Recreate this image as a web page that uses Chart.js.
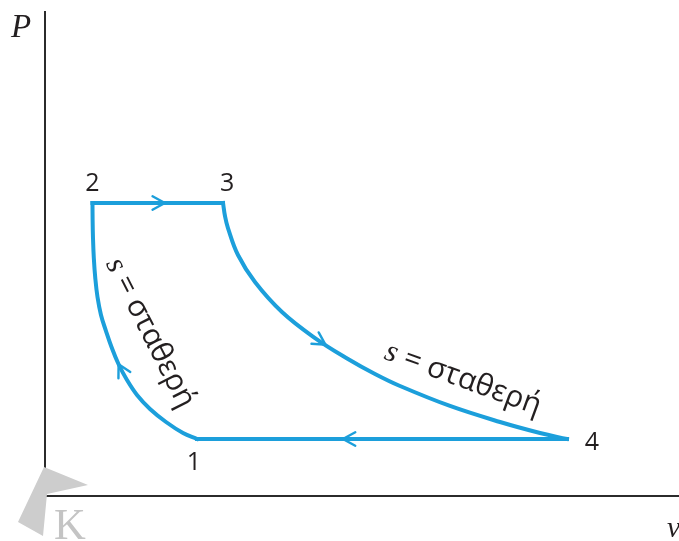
<!DOCTYPE html>
<html><head><meta charset="utf-8">
<script src="https://cdn.jsdelivr.net/npm/chart.js@4.4.0/dist/chart.umd.min.js"></script>
<style>html,body{margin:0;padding:0;background:#fff;overflow:hidden}#wrap{width:679px;height:541px;position:relative}</style>
</head><body><div id="wrap"><canvas id="c" width="679" height="541"></canvas></div>
<script>
// Diesel cycle on a P–v diagram (arbitrary units), legs in cycle order 1→2→3→4→1
const compV = [2.397, 2.177, 1.909, 1.656, 1.451, 1.293, 1.159, 1.049, 0.962, 0.883, 0.828, 0.793, 0.770, 0.757, 0.751, 0.749]; // 1→2  s = σταθερή
const compP = [1.178, 1.302, 1.529, 1.798, 2.087, 2.397, 2.727, 3.079, 3.409, 3.740, 4.112, 4.504, 4.917, 5.331, 5.702, 6.054];
const heatV = [0.749, 2.808];                                              // 2→3  P = const
const heatP = [6.054, 6.054];
const expV  = [2.808, 2.839, 2.886, 3.044, 3.312, 3.738, 4.259, 4.779, 5.205, 5.599, 6.388, 7.177, 7.808, 8.233]; // 3→4  s = σταθερή
const expP  = [6.054, 5.785, 5.537, 4.979, 4.421, 3.802, 3.264, 2.831, 2.521, 2.273, 1.860, 1.529, 1.302, 1.178];
const rejV  = [8.233, 2.397];                                              // 4→1
const rejP  = [1.178, 1.178];
const stateNames = ['1', '2', '3', '4'];
const stateV = [2.397, 0.749, 2.808, 8.233];
const stateP = [1.178, 6.054, 6.054, 1.178];
const arrowV = [1.20, 1.89, 4.42, 4.70];
const arrowP = [2.75, 6.054, 3.12, 1.178];
const curveLabel = ['s', ' = σταθερή'];

const BLUE = '#1c9fdb';
const INK = '#231f20';
const pts = (xs, ys) => xs.map((x, i) => ({x, y: ys[i]}));
const legs = [pts(compV, compP), pts(heatV, heatP), pts(expV, expP), pts(rejV, rejP)];

const mkDs = (data, smooth) => ({
  data, showLine: true, borderColor: BLUE, borderWidth: 4, pointRadius: 0,
  tension: smooth ? 0.4 : 0,
  borderCapStyle: 'square', borderJoinStyle: 'round', fill: false
});

const decor = {
  id: 'decor',
  beforeDatasetsDraw(chart) {
    const {ctx} = chart;
    ctx.save();
    ctx.fillStyle = '#cdcdcd';
    ctx.beginPath();
    ctx.moveTo(44, 467); ctx.lineTo(88, 485); ctx.lineTo(47, 494); ctx.lineTo(43, 536);
    ctx.lineTo(18, 522); ctx.closePath(); ctx.fill();
    ctx.fillStyle = '#c4c4c4';
    ctx.font = '44px "Liberation Serif"'; ctx.textBaseline = 'alphabetic'; ctx.textAlign = 'left';
    ctx.fillText('K', 54, 539);
    ctx.restore();
  },
  afterDatasetsDraw(chart) {
    const {ctx, scales: {x, y}} = chart;
    const poly = [];
    legs.forEach(l => l.forEach(p => poly.push([x.getPixelForValue(p.x), y.getPixelForValue(p.y)])));
    ctx.save();
    ctx.strokeStyle = BLUE; ctx.lineWidth = 2.4; ctx.lineCap = 'round'; ctx.lineJoin = 'miter';
    arrowV.forEach((av, i) => {
      let px = x.getPixelForValue(av), py = y.getPixelForValue(arrowP[i]);
      let best = 1e9, dir = [1, 0], foot = [px, py];
      for (let k = 0; k < poly.length - 1; k++) {
        const [x1, y1] = poly[k], [x2, y2] = poly[k + 1];
        const dx = x2 - x1, dy = y2 - y1, L2 = dx * dx + dy * dy;
        if (!L2) continue;
        let t = ((px - x1) * dx + (py - y1) * dy) / L2; t = Math.max(0, Math.min(1, t));
        const fx = x1 + t * dx, fy = y1 + t * dy;
        const d = Math.hypot(fx - px, fy - py);
        if (d < best) { best = d; const L = Math.sqrt(L2); dir = [dx / L, dy / L]; foot = [fx, fy]; }
      }
      [px, py] = foot;
      const ang = Math.atan2(dir[1], dir[0]);
      const len = 14, spread = 0.5;
      ctx.beginPath();
      ctx.moveTo(px - len * Math.cos(ang - spread), py - len * Math.sin(ang - spread));
      ctx.lineTo(px, py);
      ctx.lineTo(px - len * Math.cos(ang + spread), py - len * Math.sin(ang + spread));
      ctx.stroke();
    });
    ctx.restore();
  },
  afterDraw(chart) {
    const {ctx, scales: {x, y}} = chart;
    ctx.save();
    ctx.fillStyle = INK;
    ctx.textBaseline = 'alphabetic'; ctx.textAlign = 'left';
    ctx.font = 'italic 33px "Liberation Serif"';
    ctx.fillText('P', 11, 37);
    ctx.font = 'italic 30px "Liberation Serif"';
    ctx.fillText('ν', 667, 537);

    const offs = [[-3, 24], [0, -19], [4, -19], [25, 4]];
    ctx.font = '25px "Open Sans"'; ctx.textAlign = 'center'; ctx.textBaseline = 'middle';
    stateNames.forEach((n, i) => {
      ctx.fillText(n, x.getPixelForValue(stateV[i]) + offs[i][0], y.getPixelForValue(stateP[i]) + offs[i][1]);
    });

    const lab = (cx, cy, deg) => {
      ctx.save(); ctx.translate(cx, cy); ctx.rotate(deg * Math.PI / 180);
      const f1 = 'italic 31px "Liberation Serif"', f2 = '30px "Open Sans"';
      ctx.font = f1; const w1 = ctx.measureText(curveLabel[0]).width;
      ctx.font = f2; const w2 = ctx.measureText(curveLabel[1]).width;
      const x0 = -(w1 + w2) / 2;
      ctx.textAlign = 'left'; ctx.textBaseline = 'middle';
      ctx.font = f1; ctx.fillText(curveLabel[0], x0, 0);
      ctx.font = f2; ctx.fillText(curveLabel[1], x0 + w1, 0);
      ctx.restore();
    };
    lab(150, 333, 63);
    lab(463, 379, 20);
    ctx.restore();
  }
};

new Chart(document.getElementById('c'), {
  type: 'scatter',
  data: { datasets: [mkDs(legs[0], true), mkDs(legs[1], false), mkDs(legs[2], true), mkDs(legs[3], false)] },
  options: {
    responsive: false, animation: false, devicePixelRatio: 1,
    layout: { padding: { left: 45, top: 12, right: 0, bottom: 45 } },
    plugins: { legend: { display: false }, tooltip: { enabled: false } },
    scales: {
      x: { type: 'linear', min: 0, max: 10, ticks: { display: false },
           grid: { display: false, drawTicks: false }, border: { display: true, color: '#2b2b2b', width: 2 } },
      y: { type: 'linear', min: 0, max: 10, ticks: { display: false },
           grid: { display: false, drawTicks: false }, border: { display: true, color: '#2b2b2b', width: 2 } }
    }
  },
  plugins: [decor]
});
</script></body></html>
